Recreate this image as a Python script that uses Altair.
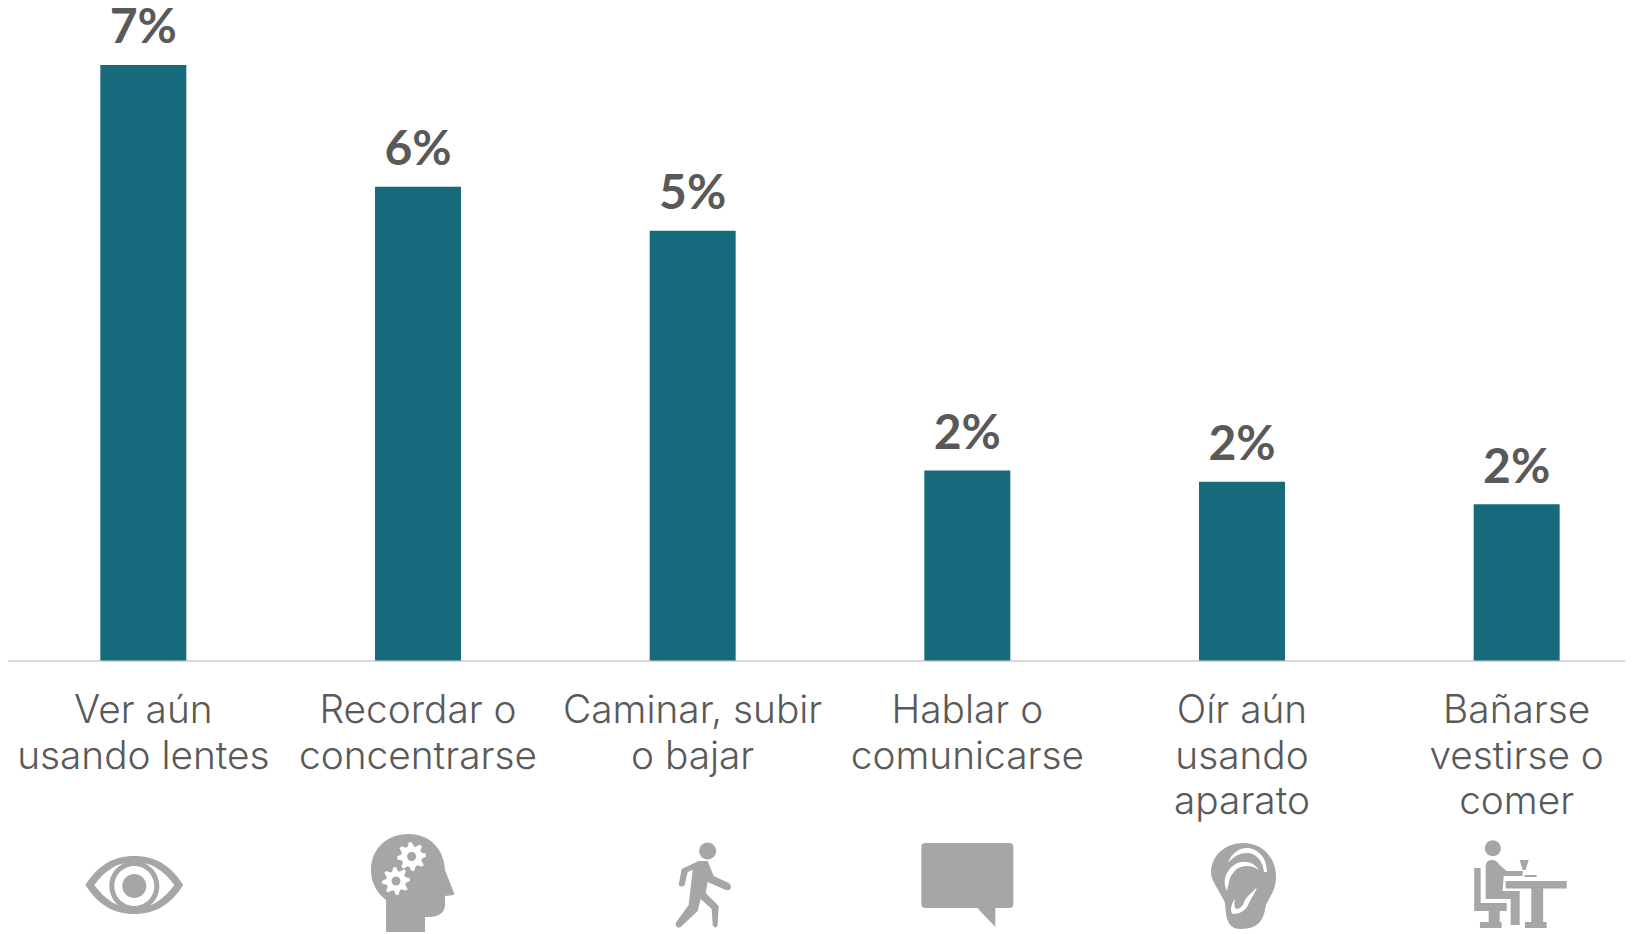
import math
import altair as alt
import pandas as pd

categories = ["Ver aún|usando lentes", "Recordar o|concentrarse", "Caminar, subir|o bajar",
              "Hablar o|comunicarse", "Oír aún|usando|aparato", "Bañarse|vestirse o|comer"]
values = [6.9, 5.49, 4.98, 2.2, 2.07, 1.81]
labels = ["7%", "6%", "5%", "2%", "2%", "2%"]

BAR = "#166A7B"
TEXT = "#595959"
ICON = "#A6A6A6"
AXIS = "#D9D9D9"


def circle(cx, cy, r, cw=True):
    s = 1 if cw else 0
    return f"M{cx - r},{cy}A{r},{r} 0 1 {s} {cx + r},{cy}A{r},{r} 0 1 {s} {cx - r},{cy}Z"


def rect(x0, y0, x1, y1):
    return f"M{x0},{y0}L{x1},{y0}L{x1},{y1}L{x0},{y1}Z"


def gear(cx, cy, r_out, r_in, hub, teeth=8):
    pts = []
    for i in range(teeth * 4):
        a = -2 * math.pi * i / (teeth * 4)
        r = r_out if i % 4 in (0, 1) else r_in
        pts.append(f"{cx + r * math.cos(a):.2f},{cy + r * math.sin(a):.2f}")
    return "M" + "L".join(pts) + "Z" + circle(cx, cy, hub)


icon_eye = ("M-58,0C-45,-20 -30,-29 -9,-29C12,-29 27,-20 40,0C27,20 12,29 -9,29C-30,29 -45,20 -58,0Z"
            "M-49,0C-38,15 -26,23 -9,23C8,23 20,15 31,0C20,-15 8,-23 -9,-23C-26,-23 -38,-15 -49,0Z"
            + circle(-9, 1, 25) + circle(-9, 1, 20, False) + circle(-9, 1, 12))
icon_head = ("M-32,47L-32,15C-42,7 -47,-3 -47,-15C-47,-37 -30,-51 -10,-51C12,-51 26,-36 27,-15"
             "L36,8L36,10L27,11L27,20C27,28 20,32 11,32L7,32L7,47Z"
             + gear(-6.4, -28.3, 14.5, 10.5, 4.5) + gear(-22, -4, 14, 10, 4.5))
icon_walk = (circle(15, -34, 8.5) +
             "M6,-24L15,-24L21,-9L36,-2Q40,1 37,5L33,5L15,-3L13,8L26,21L25,40Q23,45 20,40L19,24L8,14L5,26"
             "L-12,42Q-17,44 -17,38L-4,20L0,-15L-5,-13L-8,0Q-11,3 -14,0L-11,-16Z")
icon_talk = ("M-42,-42L42,-42Q46,-42 46,-38L46,19Q46,23 42,23L28,23L28,42L10,23L-42,23"
             "Q-46,23 -46,19L-46,-38Q-46,-42 -42,-42Z")
icon_ear = ("M1,-42C20,-42 34,-28 34,-8C34,4 28,12 24,20C22,28 22,44 -1,44C-16,44 -16,30 -17,18"
            "C-22,6 -31,-4 -31,-12C-31,-30 -16,-42 1,-42Z"
            "M25,-13C25,-28 15,-37 5,-37C-3,-37 -11,-31 -14,-22C-9,-28 -3,-32 5,-32C13,-32 21,-25 22,-13Z"
            "M17,-15C10,-26 -5,-26 -13,-15C-19,-7 -18,0 -15,6C-13,-2 -13,-8 -8,-13C-3,-20 9,-21 17,-15Z"
            "M-8,29C-1,29 5,24 7,18C10,12 13,8 15,2C10,8 6,10 3,15C1,21 -2,24 -6,24C-8,22 -8,18 -7,14"
            "C-11,18 -13,29 -8,29Z")
icon_desk = (circle(-23.8, -36.7, 8) +
             "M-31,-18Q-31,-25 -25,-25Q-20,-25 -17,-20L-10,-14L6,-14L6,-9L-13,-9L-14,6L3,6L3,40L-6,40L-6,14L-31,14Z"
             + rect(-42.5, -17, -36, 22) + rect(-42.5, 18, -10, 26) + rect(-28, 26, -17, 37)
             + rect(-36.7, 37, -15, 43) + rect(-11, -4, 50, 3.5) + rect(14.6, 3.5, 26.5, 37)
             + rect(8.3, 37, 30, 43) + "M3,-25L12,-25L9,-15L6,-15Z" + rect(8, -10, 20, -8))
icons = [icon_eye, icon_head, icon_walk, icon_talk, icon_ear, icon_desk]

df = pd.DataFrame({"categoria": categories, "valor": values, "etiqueta": labels, "icono": icons})

x = alt.X("categoria:N", sort=categories, title=None,
          scale=alt.Scale(paddingInner=0.687, paddingOuter=0.3435),
          axis=alt.Axis(labelExpr="split(datum.label,'|')", labelAngle=0, labelFont="Inter",
                        labelFontWeight=300, labelFontSize=38.8, labelColor=TEXT, labelLineHeight=45.7,
                        labelPadding=31, labelLimit=0, labelOverlap=False, ticks=False,
                        domainColor=AXIS, domainWidth=2, grid=False))
y_scale = alt.Scale(domain=[0, 7.56], nice=False, zero=False)

base = alt.Chart(df)
bars = base.mark_bar(color=BAR).encode(
    x=x, y=alt.Y("valor:Q", scale=y_scale, axis=None))
text = base.mark_text(font="Lato", fontWeight="bold", fontSize=48, color=TEXT, baseline="alphabetic",
                      align="center", dy=-21.5).encode(
    x=alt.X("categoria:N", sort=categories), y=alt.Y("valor:Q"), text="etiqueta:N")
pics = base.mark_point(filled=True, opacity=1, size=4, color=ICON, strokeWidth=0).encode(
    x=alt.X("categoria:N", sort=categories), y=alt.datum(-2.6),
    shape=alt.Shape("icono:N", scale=None, legend=None))

chart = (bars + text + pics).properties(
    width=1648, height=652.5,
    padding={"left": -2, "right": -29, "top": 0, "bottom": 272.5},
    autosize=alt.AutoSizeParams(type="none"),
    background="white",
).configure_view(stroke=None)

chart.save("out.html", embed_options={"renderer": "svg", "actions": False})
